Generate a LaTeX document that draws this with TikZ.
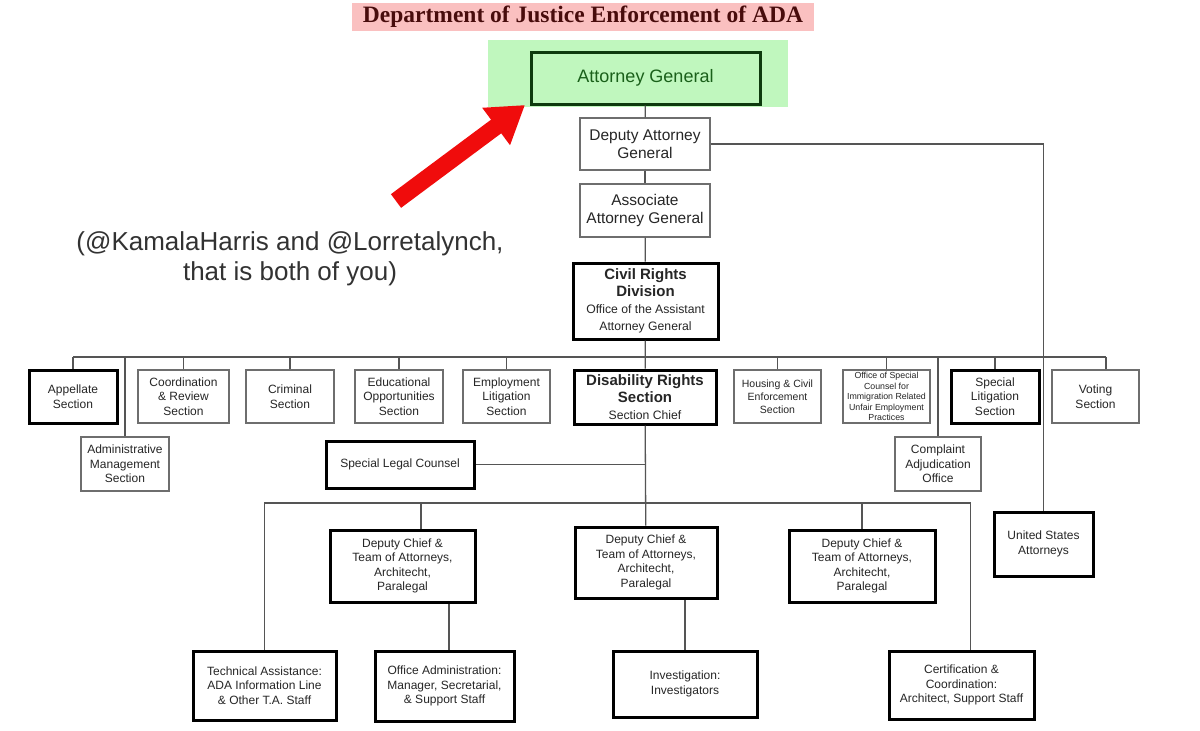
\documentclass[tikz,border=0pt]{standalone}
\usepackage{fontspec}
\setmainfont{Liberation Sans}
\newfontfamily\titleserif{Liberation Serif}
\usetikzlibrary{arrows.meta}

\definecolor{titlepink}{RGB}{250,192,192}
\definecolor{titleink}{RGB}{72,12,12}
\definecolor{agfill}{RGB}{192,247,190}
\definecolor{agline}{RGB}{14,58,14}
\definecolor{agink}{RGB}{26,96,26}
\definecolor{boxline}{RGB}{110,110,110}
\definecolor{linkgray}{RGB}{85,85,85}
\definecolor{notegray}{RGB}{50,50,50}
\definecolor{arrowred}{RGB}{240,12,12}

\newcommand\unithead[1]{{\bfseries\fontsize{15}{17}\selectfont #1}}

\tikzset{
  unit/.style={draw=boxline, line width=1.3pt, fill=white, align=center,
    inner sep=1pt, text=black!85, font=\fontsize{12}{14.5}\selectfont},
  keyunit/.style={unit, draw=black, line width=3pt},
  link/.style={draw=linkgray, line width=1.3pt},
}

\begin{document}
\begin{tikzpicture}[x=1pt, y=-1pt]
    \useasboundingbox (0,0) rectangle (1200,731);
    \fill[white] (0,0) rectangle (1200,731);

    % Title and highlight behind the Attorney General
    \node[fill=titlepink, minimum width=462, minimum height=28, inner sep=0pt,
          text=titleink, font=\titleserif\bfseries\fontsize{23.5}{26}\selectfont]
          (title) at (583,17) {Department of Justice Enforcement of ADA};
    \fill[agfill] (488,40) rectangle (788,107);

    % Chain of command
    \node[keyunit, draw=agline, fill=agfill, text=agink, minimum width=229,
          minimum height=52, font=\fontsize{18}{20}\selectfont]
          (ag) at (645.5,78) {Attorney General};
    \node[unit, minimum width=130, minimum height=52, font=\fontsize{15.5}{18}\selectfont]
          (dag) at (645,144) {Deputy Attorney\\General};
    \node[unit, minimum width=130, minimum height=53, font=\fontsize{15.5}{18}\selectfont]
          (aag) at (645,210.5) {Associate\\Attorney General};
    \node[keyunit, minimum width=145, minimum height=76, font=\fontsize{12.2}{17}\selectfont]
          (crd) at (645.5,301)
          {\unithead{Civil Rights}\\\unithead{Division}\\Office of the Assistant\\Attorney General};

    % Sections of the Civil Rights Division
    \node[keyunit, minimum width=88, minimum height=53] (appellate) at (73,396.5) {Appellate\\Section};
    \node[unit, minimum width=91, minimum height=53] (coordrev) at (183.5,396.5) {Coordination\\\& Review\\Section};
    \node[unit, minimum width=88, minimum height=53] (criminal) at (290,396.5) {Criminal\\Section};
    \node[unit, minimum width=88, minimum height=53] (educ) at (399,396.5) {Educational\\Opportunities\\Section};
    \node[unit, minimum width=87, minimum height=53] (employ) at (506.5,396.5) {Employment\\Litigation\\Section};
    \node[keyunit, minimum width=142, minimum height=54, font=\fontsize{12.2}{16.7}\selectfont]
          (drs) at (645,397) {\unithead{Disability Rights}\\\unithead{Section}\\Section Chief};
    \node[unit, minimum width=87, minimum height=53, font=\fontsize{10.5}{13}\selectfont]
          (housing) at (777.5,396.5) {Housing \& Civil\\Enforcement\\Section};
    \node[unit, minimum width=87, minimum height=53, font=\fontsize{8.8}{10.4}\selectfont]
          (osc) at (886.5,396.5) {Office of Special\\Counsel for\\Immigration Related\\Unfair Employment\\Practices};
    \node[keyunit, minimum width=88, minimum height=53] (speclit) at (995,396.5) {Special\\Litigation\\Section};
    \node[unit, minimum width=87, minimum height=53] (voting) at (1095.5,396.5) {Voting\\Section};
    \node[unit, minimum width=88, minimum height=54] (adminmgmt) at (125,464) {Administrative\\Management\\Section};
    \node[unit, minimum width=86, minimum height=54] (cao) at (938,464) {Complaint\\Adjudication\\Office};
    \node[keyunit, minimum width=99, minimum height=64] (usatty) at (1043.5,544) {United States\\Attorneys};

    % Disability Rights Section staff
    \node[keyunit, minimum width=148, minimum height=47] (slc) at (400,464.5) {Special Legal Counsel};
    \node[keyunit, minimum width=145, minimum height=72] (dc1) at (402.5,566)
          {Deputy Chief \&\\Team of Attorneys,\\Architecht,\\Paralegal};
    \node[keyunit, minimum width=142, minimum height=71] (dc2) at (646,562.5)
          {Deputy Chief \&\\Team of Attorneys,\\Architecht,\\Paralegal};
    \node[keyunit, minimum width=146, minimum height=72] (dc3) at (862,566)
          {Deputy Chief \&\\Team of Attorneys,\\Architecht,\\Paralegal};
    \node[keyunit, minimum width=143, minimum height=69] (techasst) at (264.5,685.5)
          {Technical Assistance:\\ADA Information Line\\\& Other T.A. Staff};
    \node[keyunit, minimum width=139, minimum height=70] (offadmin) at (444.5,686)
          {Office Administration:\\Manager, Secretarial,\\\& Support Staff};
    \node[keyunit, minimum width=144, minimum height=66] (invest) at (685,684)
          {Investigation:\\Investigators};
    \node[keyunit, minimum width=145, minimum height=68] (certif) at (961.5,685)
          {Certification \&\\Coordination:\\Architect, Support Staff};

    % Connectors down the chain
    \draw[link] (ag) -- (dag);
    \draw[link] (dag) -- (aag);
    \draw[link] (aag) -- (crd);
    \draw[link] (dag.east) -| (usatty.north);

    % Bus under the division
    \coordinate (busA) at (645,357);
    \draw[link] (crd) -- (drs);
    \draw[link] (appellate.north |- busA) -- ([xshift=10.5pt]voting.north |- busA);
    \foreach \unit in {appellate,coordrev,criminal,educ,employ,housing,osc,speclit,adminmgmt,cao}
        \draw[link] (\unit.north) -- (\unit.north |- busA);
    \draw[link] ([xshift=10.5pt]voting.north) -- ([xshift=10.5pt]voting.north |- busA);

    % Bus under the Disability Rights Section
    \coordinate (busB) at (645,503);
    \draw[link] (slc.east) -- (slc.east -| drs.south);
    \draw[link] (drs) -- (dc2);
    \draw[link] (techasst.north) -- (techasst.north |- busB)
        -- ([xshift=9pt]certif.north |- busB) -- ([xshift=9pt]certif.north);
    \draw[link] ([xshift=18.5pt]dc1.north) -- ([xshift=18.5pt]dc1.north |- busB);
    \draw[link] (dc3.north) -- (dc3.north |- busB);
    \draw[link] ([xshift=4.5pt]offadmin.north) -- ([xshift=4.5pt]offadmin.north |- dc1.south);
    \draw[link] (invest.north) -- (invest.north |- dc2.south);

    % Pointer and note
    \coordinate (arrowtail) at (396,201);
    \coordinate (arrowtip) at (525,105);
    \draw[arrowred, line width=17pt, -{Triangle[length=36pt,width=44pt]}] (arrowtail) -- (arrowtip);
    \node[text=notegray, align=center, font=\fontsize{26}{30}\selectfont]
          (note) at (290,259) {(@KamalaHarris and @Lorretalynch,\\that is both of you)};
\end{tikzpicture}
\end{document}
